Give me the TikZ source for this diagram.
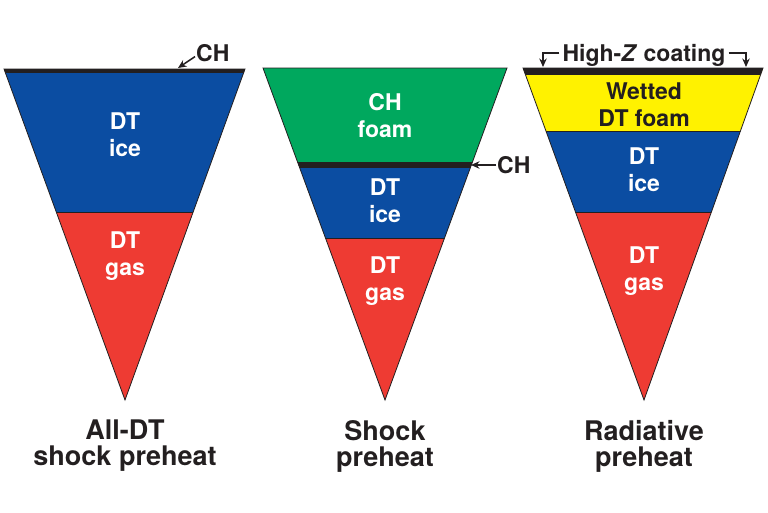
\documentclass[tikz,border=0pt]{standalone}
\usepackage{fontspec}
\setmainfont{TeX Gyre Heros}
\usepackage{xcolor}
\usetikzlibrary{arrows.meta,calc}
\definecolor{iceblue}{HTML}{0B4DA2}
\definecolor{gasred}{HTML}{EE3B33}
\definecolor{foamgreen}{HTML}{00A85E}
\definecolor{wetyellow}{HTML}{FFF200}
\definecolor{inkgray}{HTML}{231F20}

\begin{document}
\begin{tikzpicture}[x=1pt,y=-1pt,
	outline/.style={draw=inkgray,line width=0.8pt,line join=miter},
	layer/.style={draw=inkgray,line width=0.8pt},
	inlabel/.style={align=center,inner sep=0pt,anchor=north,text=white,font=\fontsize{23}{27}\selectfont\bfseries},
	caption/.style={align=center,inner sep=0pt,anchor=north,text=inkgray,font=\fontsize{27}{26}\selectfont\bfseries},
	tag/.style={inner sep=1pt,text=inkgray,font=\fontsize{23}{27}\selectfont\bfseries},
	ptr/.style={draw=inkgray,line width=1.5pt,-{Stealth[length=8.5pt,width=7.5pt]}}]
	\useasboundingbox (0,0) rectangle (768,512);
	
	% all-DT cone
	\begin{scope}
		\clip (4,69) -- (245,69) -- (125,400) -- cycle;
		\fill[iceblue] (0,69) rectangle (250,212);
		\fill[gasred] (0,212) rectangle (250,400);
		\draw[layer] (0,212) -- (250,212);
		\fill[inkgray] (0,69) rectangle (250,73);
	\end{scope}
	\draw[outline] (4,69) -- (245,69) -- (125,400) -- cycle;
	
	% shock preheat cone
	\begin{scope}
		\clip (263,68) -- (507,68) -- (385,400) -- cycle;
		\fill[foamgreen] (250,68) rectangle (520,165);
		\fill[iceblue] (250,165) rectangle (520,238);
		\fill[gasred] (250,238) rectangle (520,400);
		\draw[layer] (250,238) -- (520,238);
		\fill[inkgray] (250,162) rectangle (520,168);
	\end{scope}
	\draw[outline] (263,68) -- (507,68) -- (385,400) -- cycle;
	
	% radiative preheat cone
	\begin{scope}
		\clip (523,68) -- (763,68) -- (644,400) -- cycle;
		\fill[wetyellow] (510,68) rectangle (768,131);
		\fill[iceblue] (510,131) rectangle (768,212);
		\fill[gasred] (510,212) rectangle (768,400);
		\draw[layer] (510,131) -- (768,131);
		\draw[layer] (510,212) -- (768,212);
		\fill[inkgray] (510,68) rectangle (768,75);
	\end{scope}
	\draw[outline] (523,68) -- (763,68) -- (644,400) -- cycle;
	
	% layer labels
	\node[inlabel] (iceA) at (125,113) {DT\\ice};
	\node[inlabel] (gasA) at (125,232) {DT\\gas};
	\node[inlabel] (foamB) at (385,93) {CH\\foam};
	\node[inlabel] (iceB) at (385,179) {DT\\ice};
	\node[inlabel] (gasB) at (385,257) {DT\\gas};
	\node[inlabel,text=inkgray] (foamC) at (644,83) {Wetted\\DT foam};
	\node[inlabel] (iceC) at (644,148) {DT\\ice};
	\node[inlabel] (gasC) at (644,247) {DT\\gas};
	
	% pointers
	\node[tag,anchor=base west] (chA) at (195,61) {CH};
	\coordinate (chAtip) at (178,68);
	\draw[ptr] ([yshift=-4pt]chA.west) -- (chAtip);
	
	\node[tag,anchor=west] (chB) at (496,165) {CH};
	\coordinate (chBtip) at (471,165);
	\draw[ptr] (chB.west) -- (chBtip);
	
	\node[tag,anchor=base,inner sep=3pt] (coatC) at (644,61) {High-\textit{Z} coating};
	\coordinate (coatCl) at (543,67);
	\coordinate (coatCr) at (746,67);
	\draw[ptr] ([yshift=2pt]coatC.west) -| (coatCl);
	\draw[ptr] ([yshift=2pt]coatC.east) -| (coatCr);
	
	% captions
	\node[caption] (capA) at (125,420) {All-DT\\shock preheat};
	\node[caption] (capB) at (385,420) {Shock\\preheat};
	\node[caption] (capC) at (644,420) {Radiative\\preheat};
\end{tikzpicture}
\end{document}
